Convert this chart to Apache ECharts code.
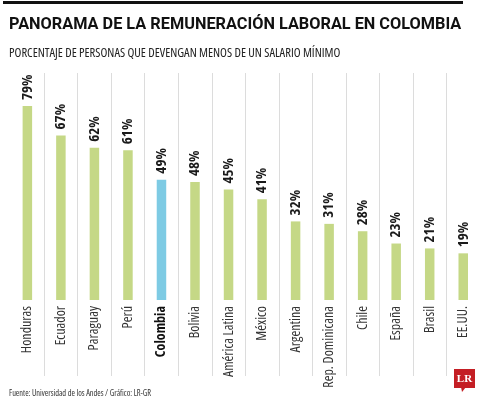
<!DOCTYPE html>
<html>
<head>
<meta charset="utf-8">
<script src="https://cdn.jsdelivr.net/npm/echarts@6/dist/echarts.min.js"></script>
<style>
html,body{margin:0;padding:0;background:#fff;}
#c{width:480px;height:400px;}
</style>
</head>
<body>
<div id="c"></div>
<script>
const titleText = 'PANORAMA DE LA REMUNERACIÓN LABORAL EN COLOMBIA';
const subtitleText = 'PORCENTAJE DE PERSONAS QUE DEVENGAN MENOS DE UN SALARIO MÍNIMO';
const sourceText = 'Fuente: Universidad de los Andes / Gráfico: LR-GR';
const categories = ['Honduras','Ecuador','Paraguay','Perú','Colombia','Bolivia','América Latina','México','Argentina','Rep. Dominicana','Chile','España','Brasil','EE.UU.'];
const values = [79,67,62,61,49,48,45,41,32,31,28,23,21,19];
const highlight = 'Colombia';

const GREEN = '#c5d886';
const BLUE = '#7ecbe4';
const COND = 'condensed';
const OPEN = '"Open Sans"';

const chart = echarts.init(document.getElementById('c'), null, {renderer:'canvas'});
chart.setOption({
  backgroundColor:'#fff',
  animation:false,
  title:[
    {text:titleText, left:4, top:12, textStyle:{fontFamily:'Roboto', fontWeight:'bold', fontSize:16.3, color:'#111'}},
    {text:subtitleText, left:4, top:42, textStyle:{fontFamily:OPEN, fontStyle:COND, fontWeight:'normal', fontSize:12.6, color:'#222'}},
    {text:sourceText, left:4, top:385, textStyle:{fontFamily:OPEN, fontStyle:COND, fontWeight:'normal', fontSize:8.3, color:'#333'}}
  ],
  grid:[
    {left:10.6, right:-2, top:54.4, bottom:100},
    {left:10.6, right:-2, top:73, bottom:24}
  ],
  xAxis:[
    {type:'category', gridIndex:0,
     data:categories.map(c => c === highlight ? {value:c, textStyle:{fontWeight:'bold', color:'#111'}} : c),
     axisLine:{show:false}, axisTick:{show:false}, splitLine:{show:false},
     axisLabel:{rotate:90, margin:6, fontFamily:OPEN, fontStyle:COND, fontSize:14, color:'#333', interval:0}},
    {type:'category', gridIndex:1, data:categories,
     axisLine:{show:false}, axisTick:{show:false}, axisLabel:{show:false},
     splitLine:{show:true, showMinLine:false, showMaxLine:false, interval:0, lineStyle:{color:'#dcdcdc', width:1}}}
  ],
  yAxis:[
    {type:'value', gridIndex:0, min:0, max:100, show:false},
    {type:'value', gridIndex:1, min:0, max:100, show:false}
  ],
  series:[{
    type:'bar', xAxisIndex:0, yAxisIndex:0, z:5,
    barWidth:9.5,
    data:values.map((v,i) => ({value:v, itemStyle:{color: categories[i] === highlight ? BLUE : GREEN}})),
    label:{show:true, position:'top', rotate:90, align:'left', verticalAlign:'middle', distance:6,
           formatter:'{c}%', fontFamily:OPEN, fontStyle:COND, fontWeight:'bold', fontSize:15, color:'#1a1a1a'}
  }],
  graphic:[
    {type:'rect', shape:{x:3, y:1, width:460, height:3}, style:{fill:'#111'}},
    {type:'group', left:454, top:369, children:[
      {type:'polygon', shape:{points:[[7,18],[12,18],[8,23]]}, style:{fill:'#c41e24'}},
      {type:'rect', shape:{x:0, y:0, width:21, height:19}, style:{fill:'#c41e24'}},
      {type:'text', style:{x:10.5, y:10, text:'LR', fill:'#fff', font:'bold 11px "Liberation Serif", serif', align:'center', verticalAlign:'middle'}}
    ]}
  ]
});
</script>
</body>
</html>
